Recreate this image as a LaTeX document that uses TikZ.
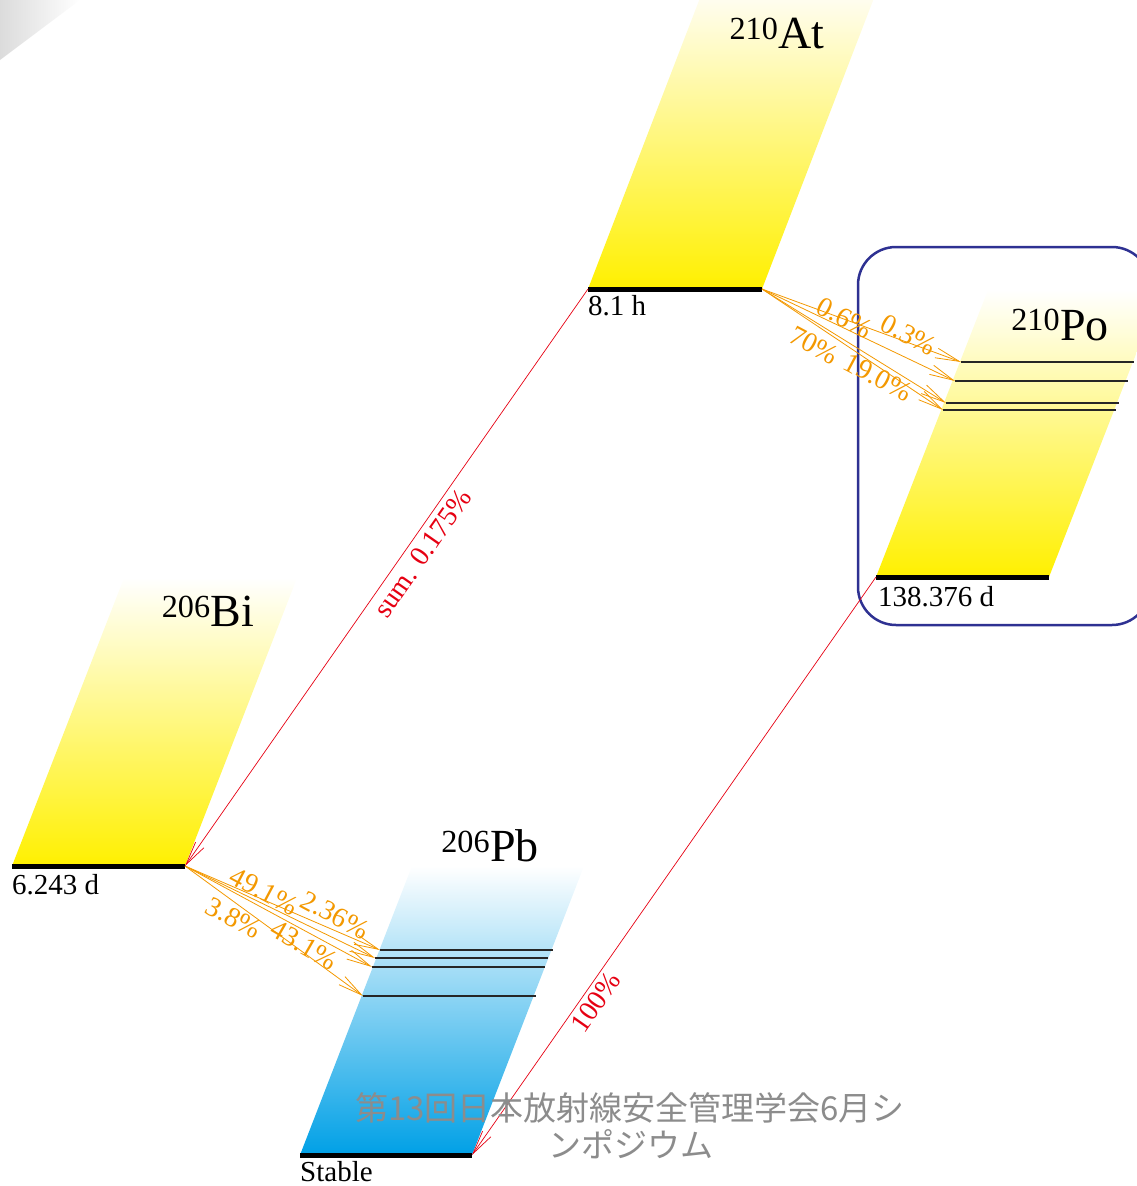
\documentclass[tikz,border=0pt]{standalone}
\usepackage{fontspec}
\setmainfont{Liberation Serif}
\newfontfamily\cjk{Noto Sans CJK JP}
\usetikzlibrary{arrows.meta}
\definecolor{yel}{HTML}{FFF000}
\definecolor{paleyel}{HTML}{FFFDF0}
\definecolor{skyb}{HTML}{00A0E6}
\definecolor{orng}{HTML}{F39800}
\definecolor{redd}{HTML}{E60012}
\definecolor{navy}{HTML}{2E3192}
\begin{document}
\begin{tikzpicture}[x=1pt,y=-1pt,
  bar/.style={line width=5pt},
  lvl/.style={line width=1.1pt, black!85},
  orarrow/.style={draw=orng, line width=0.8pt, -{Straight Barb[length=24pt,width=10pt]}},
  rdarrow/.style={draw=redd, line width=0.7pt, -{Straight Barb[length=24pt,width=10pt]}},
  oplabel/.style={text=orng, font=\fontsize{28}{28}\selectfont, inner sep=0pt},
  rdlabel/.style={text=redd, font=\fontsize{28}{28}\selectfont, inner sep=0pt},
  halflife/.style={font=\fontsize{29}{29}\selectfont, anchor=base west, inner sep=0pt},
  nuclide/.style={font=\fontsize{46}{46}\selectfont, inner sep=0pt},
  wmark/.style={text=black!45, font=\cjk\fontsize{33}{33}\selectfont, inner sep=0pt}
]
\useasboundingbox (0,0) rectangle (1136,1186);
% page curl shade
\shade[left color=black!14, right color=white] (0,0) -- (80,0) -- (0,60) -- cycle;

% parallelograms
\shade[top color=paleyel, bottom color=yel] (588,289) -- (762,289) -- (874,-2) -- (700,-2) -- cycle;
\shade[top color=white, bottom color=yel] (876,577) -- (1049,577) -- (1161,290) -- (988,290) -- cycle;
\shade[top color=white, bottom color=yel] (12,866) -- (185,866) -- (297,578) -- (124,578) -- cycle;
\shade[top color=white, bottom color=skyb] (300,1155) -- (472,1155) -- (584,866) -- (412,866) -- cycle;

% Po box
\draw[navy, line width=2.5pt, rounded corners=38pt] (858,247) rectangle (1150,625);

% bars
\coordinate (atL) at (588,289); \coordinate (atR) at (762,289);
\coordinate (poL) at (876,577); \coordinate (poR) at (1049,577);
\coordinate (biL) at (12,866);  \coordinate (biR) at (185,866);
\coordinate (pbL) at (300,1155); \coordinate (pbR) at (472,1155);
\draw[bar] (atL) -- (atR);
\draw[bar] (poL) -- (poR);
\draw[bar] (biL) -- (biR);
\draw[bar] (pbL) -- (pbR);

% Po levels
\coordinate (po1) at (961,362); \coordinate (po2) at (955,381);
\coordinate (po3) at (946,403); \coordinate (po4) at (943,410);
\draw[lvl] (po1) -- ++(173,0);
\draw[lvl] (po2) -- ++(173,0);
\draw[lvl] (po3) -- ++(173,0);
\draw[lvl] (po4) -- ++(173,0);

% Pb levels
\coordinate (pb1) at (380,950); \coordinate (pb2) at (375,958);
\coordinate (pb3) at (372,967); \coordinate (pb4) at (363,996);
\draw[lvl] (pb1) -- ++(173,0);
\draw[lvl] (pb2) -- ++(173,0);
\draw[lvl] (pb3) -- ++(173,0);
\draw[lvl] (pb4) -- ++(173,0);

% nuclide labels
\node[nuclide] (at) at (777,34) {\textsuperscript{210}At};
\node[nuclide] (po) at (1060,325) {\textsuperscript{210}Po};
\node[nuclide] (bi) at (208,611) {\textsuperscript{206}Bi};
\node[nuclide] (pb) at (490,846) {\textsuperscript{206}Pb};

% half-lives
\node[halflife] (atT) at (588,315) {8.1 h};
\node[halflife] (poT) at (878,606) {138.376 d};
\node[halflife] (biT) at (12,894) {6.243 d};
\node[halflife] (pbT) at (300,1181) {Stable};

% At -> Po
\draw[orarrow] (atR) -- (po1);
\draw[orarrow] (atR) -- (po2);
\draw[orarrow] (atR) -- (po3);
\draw[orarrow] (atR) -- (po4);
\node[oplabel, rotate=-28] (l06) at (845,318) {0.6\%};
\node[oplabel, rotate=-28] (l03) at (909,335) {0.3\%};
\node[oplabel, rotate=-28] (l70) at (814,345) {70\%};
\node[oplabel, rotate=-28] (l19) at (878,377) {19.0\%};

% Bi -> Pb
\draw[orarrow] (biR) -- (pb1);
\draw[orarrow] (biR) -- (pb2);
\draw[orarrow] (biR) -- (pb3);
\draw[orarrow] (biR) -- (pb4);
\node[oplabel, rotate=-28] (l491) at (264,891) {49.1\%};
\node[oplabel, rotate=-28] (l236) at (335,915) {2.36\%};
\node[oplabel, rotate=-28] (l38) at (234,918) {3.8\%};
\node[oplabel, rotate=-30] (l431) at (304,945) {43.1\%};

% alpha decays
\draw[rdarrow] (atL) -- (biR);
\node[rdlabel, rotate=55] (sum) at (423,553) {sum. 0.175\%};
\draw[rdarrow] (poL) -- (pbR);
\node[rdlabel, rotate=55] (hund) at (596,1002) {100\%};

% watermark
\node[wmark] (wm1) at (630,1108) {第13回日本放射線安全管理学会6月シ};
\node[wmark] (wm2) at (631,1144) {ンポジウム};
\end{tikzpicture}
\end{document}
